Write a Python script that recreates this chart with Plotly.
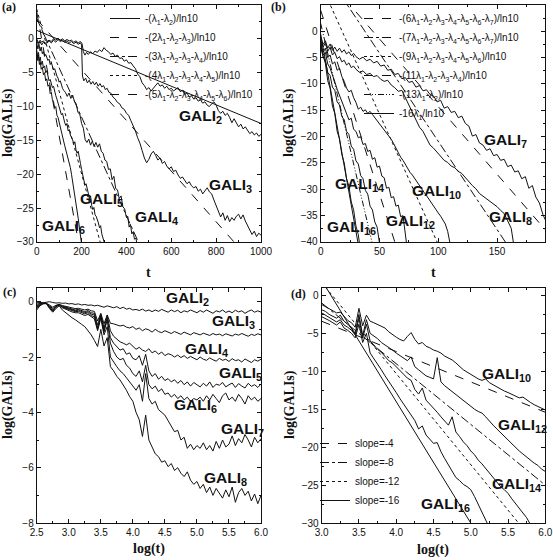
import plotly.graph_objects as go

# ---------------- Panel (a): GALI_2 ... GALI_6 vs t ----------------
a_g2_t = [0, 8, 15, 22, 30, 38, 45, 55, 65, 75, 85, 95, 105, 115, 125, 135, 145, 155, 165, 175, 185, 195, 202,
          208, 215, 222, 230, 240, 250, 260, 270, 280, 290, 300, 310, 320, 330, 340, 350, 360, 370, 380, 390, 400,
          410, 420, 430, 440, 450, 460, 470, 480, 490, 500, 510, 520, 530, 540, 550, 560, 570, 580, 590, 600, 610,
          620, 630, 640, 650, 660, 670, 680, 690, 700, 710, 720, 730, 740, 750, 760, 770, 780, 790, 800, 810, 820,
          830, 840, 850, 860, 870, 880, 890, 900, 910, 920, 930, 940, 950, 960, 970, 980, 990, 1000]
a_g2_v = [0.0, -0.6, -0.2, -0.5, -0.3, -0.7, -0.4, -0.2, -0.4, 0.0, -0.2, 0.1, -0.2, 0.0, -0.3, -0.1, -0.3, -0.2,
          -0.5, -0.3, -0.6, -0.4, -0.7, -1.9, -2.4, -2.0, -2.3, -1.9, -2.2, -1.8, -2.0, -1.6, -1.9, -1.3, -1.7, -1.9,
          -2.3, -2.1, -2.6, -2.4, -2.9, -2.8, -3.3, -3.1, -3.6, -3.5, -4.0, -4.4, -5.2, -5.6, -6.5, -6.9, -7.5, -7.2,
          -7.7, -7.3, -6.8, -6.5, -7.0, -6.8, -7.3, -7.0, -7.5, -7.3, -7.7, -7.4, -7.2, -7.8, -7.6, -8.2, -8.0, -8.6,
          -8.4, -8.9, -8.7, -9.2, -9.0, -9.5, -9.3, -9.8, -10.0, -9.6, -9.3, -9.8, -10.6, -11.0, -10.7, -11.3, -11.0,
          -11.6, -12.4, -11.8, -12.3, -13.0, -12.6, -13.3, -13.0, -13.6, -14.0, -13.7, -14.2, -13.9, -14.4, -14.1]

a_g3_t = [0, 8, 15, 22, 30, 38, 45, 55, 65, 75, 85, 95, 105, 115, 125, 135, 145, 155, 165, 175, 185, 195, 200,
          204, 210, 218, 226, 234, 242, 250, 258, 266, 274, 282, 290, 298, 306, 314, 322, 330, 340, 350, 360, 370,
          380, 390, 400, 410, 420, 430, 440, 450, 460, 470, 480, 490, 500, 510, 520, 530, 540, 550, 560, 570, 580,
          590, 600, 610, 620, 630, 640, 650, 660, 670, 680, 690, 700, 710, 720, 730, 740, 750, 760, 770, 780, 790,
          800, 810, 820, 830, 840, 850, 860, 870, 880, 890, 900, 910, 920, 930, 940, 950, 960, 970, 980, 990, 1000]
a_g3_v = [-0.3, -0.8, -0.4, -0.9, -0.5, -0.8, -0.6, -0.3, -0.6, -0.2, -0.5, -0.1, -0.4, -0.2, -0.5, -0.3, -0.6,
          -0.4, -0.7, -0.5, -0.8, -0.6, -0.9, -5.5, -6.2, -5.8, -6.5, -6.1, -6.7, -6.3, -6.8, -6.4, -7.0, -6.6, -7.1,
          -6.9, -7.5, -7.3, -7.9, -8.0, -8.6, -8.9, -9.4, -9.6, -10.2, -10.4, -11.0, -11.3, -12.1, -12.8, -13.6,
          -14.6, -15.4, -16.5, -17.6, -18.3, -17.8, -17.0, -16.6, -17.2, -17.9, -17.6, -18.4, -18.1, -18.8, -19.2,
          -18.9, -19.6, -19.4, -20.1, -20.6, -20.4, -21.0, -21.4, -21.1, -21.7, -22.0, -21.8, -22.5, -22.2, -22.9,
          -22.4, -22.0, -22.6, -22.9, -23.8, -24.6, -25.6, -26.3, -25.7, -26.8, -26.1, -27.0, -26.4, -26.8, -26.2,
          -25.9, -26.6, -26.0, -26.9, -27.6, -28.3, -28.9, -28.4, -29.2, -28.7, -29.0]

a_g4_t = [0, 5, 10, 15, 20, 25, 30, 35, 40, 45, 50, 55, 60, 65, 70, 75, 80, 85, 90, 95, 100, 105, 110, 115, 120,
          128, 136, 144, 152, 160, 168, 176, 184, 192, 200, 208, 216, 224, 232, 240, 248, 256, 264, 272, 280, 288,
          296, 304, 312, 320, 328, 336, 344, 352, 360, 368, 376, 384, 392, 400, 406, 412, 418, 424, 430, 436, 442, 448]
a_g4_v = [-0.6, -1.5, -0.8, -1.8, -1.2, -2.2, -1.9, -2.6, -2.3, -2.9, -3.2, -3.0, -3.8, -3.5, -4.3, -4.6, -4.4,
          -5.2, -5.5, -5.8, -6.4, -6.2, -7.0, -7.3, -7.6, -7.9, -8.5, -8.0, -8.8, -8.3, -9.2, -9.6, -10.9, -11.1,
          -12.5, -13.2, -14.9, -15.3, -14.8, -15.7, -15.1, -15.9, -15.3, -16.0, -15.5, -16.6, -16.9, -17.9, -18.1,
          -19.3, -19.2, -20.8, -20.3, -22.1, -22.3, -23.6, -23.2, -24.8, -25.1, -26.4, -26.2, -27.8, -27.4, -28.8,
          -28.5, -29.6, -29.4, -30.5]

a_g5_t = [0, 4, 8, 12, 16, 20, 25, 30, 35, 40, 45, 50, 55, 60, 65, 70, 75, 80, 85, 90, 95, 100, 105, 110, 115,
          120, 125, 130, 135, 140, 145, 150, 155, 160, 165, 170, 175, 180, 185, 190, 195, 200, 205, 210, 215, 220,
          225, 230, 235, 240, 245, 250, 255, 260, 265, 270, 275, 280, 285, 290, 295, 300, 305]
a_g5_v = [-1.6, -2.8, -2.0, -3.3, -2.7, -3.8, -3.3, -4.3, -4.0, -5.0, -4.7, -5.6, -6.2, -6.0, -6.9, -7.2, -7.0,
          -7.9, -8.4, -8.9, -9.5, -10.0, -10.6, -11.2, -11.0, -11.9, -12.4, -12.8, -12.5, -13.6, -13.4, -14.2,
          -14.5, -14.9, -15.5, -15.2, -16.4, -16.9, -16.6, -17.8, -18.4, -19.3, -20.2, -21.0, -21.6, -21.4, -22.4,
          -22.8, -23.6, -23.2, -24.6, -25.2, -24.9, -26.0, -26.2, -26.6, -27.2, -27.9, -27.6, -28.8, -29.3, -29.8,
          -30.5]

a_g6_t = [0, 4, 8, 12, 16, 20, 25, 30, 35, 40, 45, 50, 55, 60, 65, 70, 75, 80, 85, 90, 95, 100, 105, 110, 115,
          120, 125, 130, 135, 140, 145, 150, 155, 160, 165, 170, 175, 180, 185, 190, 195, 200]
a_g6_v = [-2.0, -3.2, -2.6, -3.8, -3.4, -4.5, -4.2, -5.3, -5.0, -6.2, -5.9, -7.0, -6.8, -8.1, -7.9, -9.0, -9.3,
          -10.2, -10.0, -11.3, -11.6, -12.4, -13.1, -13.7, -14.3, -15.1, -15.8, -16.4, -17.0, -17.6, -18.3, -19.0,
          -20.0, -21.0, -22.0, -23.0, -24.0, -25.3, -26.5, -27.8, -28.9, -30.3]

a_line_names = ["-(λ<sub>1</sub>-λ<sub>2</sub>)/ln10",
                "-(2λ<sub>1</sub>-λ<sub>2</sub>-λ<sub>3</sub>)/ln10",
                "-(3λ<sub>1</sub>-λ<sub>2</sub>-λ<sub>3</sub>-λ<sub>4</sub>)/ln10",
                "-(4λ<sub>1</sub>-λ<sub>2</sub>-λ<sub>3</sub>-λ<sub>4</sub>-λ<sub>5</sub>)/ln10",
                "-(5λ<sub>1</sub>-λ<sub>2</sub>-λ<sub>3</sub>-λ<sub>4</sub>-λ<sub>5</sub>-λ<sub>6</sub>)/ln10"]
a_line_icpt = [1.25, 2.9, 3.0, 4.4, 4.0]
a_line_slope = [-0.01375, -0.0374, -0.0728, -0.1216, -0.183]
a_labels = ["GALI<sub>2</sub>", "GALI<sub>3</sub>", "GALI<sub>4</sub>", "GALI<sub>5</sub>", "GALI<sub>6</sub>"]

# ---------------- Panel (b): GALI_7 ... GALI_16 vs t ----------------
b_g7_t = [0, 2, 4, 6, 8, 10, 12, 14, 16, 18, 20, 22, 24, 26, 28, 30, 33, 36, 39, 42, 45, 48, 51, 54, 57, 60, 63,
          66, 69, 72, 75, 78, 81, 84, 87, 90, 93, 96, 99, 102, 105, 108, 111, 114, 117, 120, 123, 126, 129, 132,
          135, 138, 141, 144, 147, 150, 153, 156, 159, 162, 165, 168, 171, 174, 177, 180, 183, 186, 189, 191]
b_g7_v = [-1.0, -2.5, -1.8, -3.2, -2.4, -3.6, -3.0, -3.8, -3.2, -4.0, -3.5, -4.3, -3.9, -4.6, -4.2, -4.8, -5.3,
          -4.9, -5.6, -5.3, -6.0, -5.7, -6.6, -6.4, -7.4, -7.2, -8.2, -8.0, -9.0, -8.8, -9.7, -9.5, -10.6, -10.3,
          -11.3, -11.1, -12.0, -12.3, -13.4, -13.1, -14.6, -14.3, -15.4, -15.2, -16.4, -16.1, -17.5, -18.0, -19.9,
          -19.6, -21.2, -21.6, -22.6, -22.3, -23.6, -23.4, -24.5, -24.3, -25.7, -25.4, -26.7, -26.5, -28.0, -27.6,
          -29.8, -29.3, -31.5, -32.6, -34.8, -35.8]

b_g8_t = [0, 2, 4, 6, 8, 10, 12, 14, 16, 18, 20, 22, 24, 26, 28, 30, 33, 36, 39, 42, 45, 48, 51, 54, 57, 60, 63,
          66, 69, 72, 75, 78, 81, 84, 87, 90, 93, 96, 99, 102, 105, 108, 111, 114, 117, 120, 123, 126, 129, 132,
          135, 138, 141, 144, 147, 150, 153, 156, 159, 162, 164]
b_g8_v = [-1.5, -3.0, -2.2, -3.8, -3.0, -4.5, -4.0, -5.2, -4.8, -5.8, -5.5, -6.4, -6.0, -6.9, -6.6, -7.2, -7.8,
          -7.5, -8.2, -8.0, -8.6, -8.4, -9.1, -9.5, -9.3, -10.2, -10.7, -11.4, -11.2, -12.6, -13.8, -15.3, -16.8,
          -18.2, -19.0, -20.3, -21.6, -22.2, -23.0, -23.6, -24.5, -24.9, -25.6, -25.9, -26.6, -27.0, -27.8, -28.4,
          -29.3, -29.9, -30.8, -31.3, -31.8, -32.4, -32.8, -33.3, -34.0, -34.6, -36.0, -37.4, -40.3]

b_g10_t = [0, 2, 4, 6, 8, 10, 12, 14, 16, 18, 20, 22, 24, 26, 28, 30, 32, 34, 36, 38, 40, 42, 44, 46, 48, 50,
           52, 54, 56, 58, 60, 62, 64, 66, 68, 70, 72, 74, 76, 78, 80, 82, 84, 86, 88, 90, 92, 94, 96, 98, 100,
           102, 104, 106, 108, 110]
b_g10_v = [-2.0, -4.0, -3.2, -5.0, -4.5, -6.2, -5.8, -7.4, -7.0, -8.6, -9.5, -10.8, -11.5, -11.2, -12.6, -13.5,
           -14.8, -14.4, -15.2, -14.9, -15.6, -15.2, -15.8, -16.4, -16.9, -17.6, -18.0, -18.6, -19.3, -19.8, -20.5,
           -21.3, -22.2, -23.0, -23.9, -24.5, -25.3, -26.0, -26.8, -27.3, -28.0, -28.6, -29.3, -29.9, -30.6, -31.2,
           -31.9, -32.5, -33.2, -33.8, -34.5, -35.1, -35.8, -36.6, -38.0, -40.3]

b_g12_t = [0, 2, 4, 6, 8, 10, 12, 14, 16, 18, 20, 22, 24, 26, 28, 30, 32, 34, 36, 38, 40, 42, 44, 46, 48, 50,
           52, 54, 56, 58, 60, 62, 64, 66, 68, 70, 72, 73]
b_g12_v = [-2.5, -4.5, -4.0, -6.2, -7.0, -8.5, -9.6, -11.0, -12.2, -13.5, -14.6, -15.8, -16.8, -16.5, -18.6,
           -19.0, -20.2, -20.0, -21.5, -21.3, -22.8, -22.6, -24.3, -24.0, -25.8, -25.6, -27.5, -27.8, -29.8, -29.6,
           -31.6, -31.4, -33.2, -33.0, -35.2, -35.0, -38.2, -40.3]

b_g14_t = [0, 2, 4, 6, 8, 10, 12, 14, 16, 18, 20, 22, 24, 26, 28, 30, 32, 34, 36, 38, 40, 42, 44, 46, 48, 50]
b_g14_v = [-3.0, -4.8, -5.6, -7.8, -8.4, -10.6, -11.2, -13.4, -14.0, -16.2, -16.8, -19.0, -19.6, -21.8, -22.4,
           -24.6, -25.2, -27.4, -28.0, -30.2, -30.9, -33.2, -33.9, -36.2, -37.2, -40.2]

b_g16_t = [0, 2, 4, 6, 8, 10, 12, 14, 16, 18, 20, 22, 24, 26, 28, 30, 32, 33]
b_g16_v = [-2.0, -4.6, -6.1, -9.4, -10.8, -14.2, -15.6, -19.0, -20.4, -23.4, -25.0, -28.0, -29.4, -32.4, -33.9,
           -37.0, -38.6, -40.3]

b_line_names = ["-(6λ<sub>1</sub>-λ<sub>2</sub>-λ<sub>3</sub>-λ<sub>4</sub>-λ<sub>5</sub>-λ<sub>6</sub>-λ<sub>7</sub>)/ln10",
                "-(7λ<sub>1</sub>-λ<sub>2</sub>-λ<sub>3</sub>-λ<sub>4</sub>-λ<sub>5</sub>-λ<sub>6</sub>-λ<sub>7</sub>)/ln10",
                "-(9λ<sub>1</sub>-λ<sub>2</sub>-λ<sub>3</sub>-λ<sub>4</sub>-λ<sub>5</sub>-λ<sub>6</sub>)/ln10",
                "-(11λ<sub>1</sub>-λ<sub>2</sub>-λ<sub>3</sub>-λ<sub>4</sub>)/ln10",
                "-(13λ<sub>1</sub>-λ<sub>2</sub>)/ln10",
                "-16λ<sub>1</sub>/ln10"]
b_line_icpt = [11.4, 12.6, 9.05, 4.0, 1.5, -0.5]
b_line_slope = [-0.257, -0.335, -0.4955, -0.698, -0.952, -1.25]
b_labels = ["GALI<sub>7</sub>", "GALI<sub>8</sub>", "GALI<sub>10</sub>", "GALI<sub>12</sub>",
            "GALI<sub>14</sub>", "GALI<sub>16</sub>"]

# ---------------- Panel (c): GALI_2 ... GALI_8 vs log(t) ----------------
c_logt = [2.50, 2.55, 2.60, 2.65, 2.70, 2.75, 2.80, 2.85, 2.90, 2.95, 3.00, 3.05, 3.10, 3.15, 3.20, 3.25, 3.30,
          3.35, 3.40, 3.45, 3.50, 3.55, 3.60, 3.65, 3.70, 3.75, 3.80, 3.85, 3.90, 3.95, 4.00, 4.05, 4.10, 4.15,
          4.20, 4.25, 4.30, 4.35, 4.40, 4.45, 4.50, 4.55, 4.60, 4.65, 4.70, 4.75, 4.80, 4.85, 4.90, 4.95, 5.00,
          5.05, 5.10, 5.15, 5.20, 5.25, 5.30, 5.35, 5.40, 5.45, 5.50, 5.55, 5.60, 5.65, 5.70, 5.75, 5.80, 5.85,
          5.90, 5.95, 6.00]
c_g2 = [0.0, -0.02, -0.05, -0.02, 0.0, -0.03, -0.05, -0.04, -0.06, -0.05,
        -0.08, -0.07, -0.1, -0.08, -0.12, -0.1, -0.13, -0.12, -0.15, -0.13,
        -0.16, -0.2, -0.15, -0.18, -0.22, -0.18, -0.25, -0.2, -0.27, -0.24,
        -0.3, -0.28, -0.32, -0.27, -0.34, -0.3, -0.36, -0.3, -0.35, -0.28,
        -0.33, -0.38, -0.3, -0.36, -0.31, -0.4, -0.33, -0.37, -0.3, -0.35,
        -0.4, -0.32, -0.38, -0.3, -0.36, -0.42, -0.33, -0.37, -0.3, -0.39,
        -0.34, -0.4, -0.31, -0.37, -0.33, -0.42, -0.35, -0.3, -0.38, -0.33, -0.38]
c_g3 = [-0.05, -0.03, -0.05, -0.06, -0.12, -0.2, -0.13, -0.1, -0.14, -0.17,
        -0.2, -0.22, -0.25, -0.24, -0.28, -0.3, -0.27, -0.33, -0.35, -0.7,
        -0.42, -0.8, -0.48, -0.78, -0.8, -0.84, -0.88, -0.85, -0.92, -0.95,
        -0.9, -1.0, -0.95, -1.05, -0.98, -1.02, -1.1, -1.0, -1.08, -1.12,
        -1.05, -1.1, -1.15, -1.08, -1.12, -1.18, -1.1, -1.15, -1.2, -1.12,
        -1.16, -1.2, -1.14, -1.18, -1.22, -1.15, -1.2, -1.17, -1.23, -1.16,
        -1.2, -1.24, -1.17, -1.21, -1.15, -1.2, -1.25, -1.18, -1.22, -1.16, -1.2]
c_g4 = [-0.1, -0.06, -0.05, -0.06, -0.15, -0.25, -0.15, -0.1, -0.16, -0.2,
        -0.24, -0.27, -0.3, -0.28, -0.33, -0.36, -0.32, -0.4, -0.42, -0.85,
        -0.45, -0.95, -0.5, -1.05, -1.25, -1.35, -1.45, -1.5, -1.56, -1.5,
        -1.6, -1.72, -1.65, -1.75, -1.8, -1.7, -1.85, -1.78, -1.9, -1.82,
        -1.95, -1.88, -1.92, -2.0, -1.93, -2.02, -1.95, -2.05, -1.98, -2.04,
        -2.1, -2.0, -2.08, -2.12, -2.03, -2.1, -2.15, -2.05, -2.12, -2.08,
        -2.16, -2.06, -2.13, -2.1, -2.18, -2.07, -2.14, -2.2, -2.1, -2.15, -2.08]
c_g5 = [-0.15, -0.08, -0.05, -0.06, -0.18, -0.3, -0.17, -0.1, -0.18, -0.22,
        -0.27, -0.3, -0.33, -0.31, -0.36, -0.4, -0.36, -0.45, -0.48, -0.95,
        -0.5, -1.05, -0.6, -1.3, -1.5, -1.62, -1.75, -1.7, -1.9, -1.85,
        -2.05, -2.1, -1.95, -2.3, -1.9, -2.5, -2.7, -2.6, -2.8, -2.7,
        -2.85, -2.78, -2.9, -2.82, -2.95, -2.85, -3.0, -2.9, -3.05, -2.92,
        -3.0, -3.08, -2.95, -3.05, -2.9, -3.1, -2.98, -3.02, -2.92, -3.08,
        -3.0, -2.94, -3.1, -2.96, -3.05, -3.12, -2.95, -3.06, -3.0, -3.1, -2.98]
c_g6 = [-0.2, -0.1, -0.06, -0.06, -0.2, -0.33, -0.18, -0.11, -0.2, -0.24,
        -0.3, -0.33, -0.36, -0.35, -0.4, -0.44, -0.4, -0.5, -0.55, -1.0,
        -0.55, -1.1, -0.65, -1.5, -1.8, -2.0, -2.1, -2.05, -2.3, -2.4,
        -2.6, -2.7, -2.5, -2.9, -2.3, -3.0, -3.15, -3.05, -3.25, -3.15,
        -3.35, -3.3, -3.45, -3.35, -3.5, -3.4, -3.55, -3.45, -3.6, -3.5,
        -3.55, -3.45, -3.6, -3.4, -3.55, -3.35, -3.5, -3.65, -3.4, -3.3,
        -3.55, -3.45, -3.6, -3.35, -3.5, -3.7, -3.4, -3.55, -3.45, -3.6, -3.5]
c_g7 = [-0.25, -0.12, -0.07, -0.06, -0.22, -0.35, -0.2, -0.12, -0.22, -0.27,
        -0.33, -0.37, -0.4, -0.4, -0.45, -0.5, -0.46, -0.55, -0.62, -1.05,
        -0.6, -1.2, -0.9, -2.0, -2.2, -2.35, -2.5, -2.6, -2.75, -2.9,
        -3.07, -3.2, -3.0, -3.6, -2.6, -3.5, -3.7, -3.6, -3.9, -4.0,
        -4.1, -4.3, -4.5, -4.7, -4.65, -5.0, -4.9, -5.3, -5.15, -5.35,
        -5.2, -5.3, -5.1, -5.35, -5.2, -5.4, -5.05, -5.3, -5.0, -5.25,
        -5.15, -4.85, -5.2, -4.95, -5.1, -4.8, -5.0, -5.25, -4.9, -5.1, -4.95]
c_g8 = [-0.3, -0.15, -0.08, -0.07, -0.25, -0.38, -0.25, -0.15, -0.3, -0.4,
        -0.5, -0.58, -0.65, -0.75, -0.82, -0.9, -1.05, -1.2, -1.4, -1.62,
        -1.0, -1.6, -1.3, -2.35, -2.5, -2.7, -2.83, -3.0, -3.2, -3.43,
        -3.6, -4.0, -4.27, -4.87, -4.1, -5.0, -5.23, -5.5, -5.6, -5.8,
        -5.75, -5.96, -5.85, -6.1, -6.0, -6.2, -6.32, -6.15, -6.45, -6.6,
        -6.5, -6.75, -6.6, -6.9, -6.7, -7.0, -6.75, -6.95, -7.1, -6.8,
        -7.05, -6.7, -7.25, -6.9, -6.75, -7.0, -6.85, -7.2, -6.95, -7.3, -7.0]
c_labels = ["GALI<sub>2</sub>", "GALI<sub>3</sub>", "GALI<sub>4</sub>", "GALI<sub>5</sub>",
            "GALI<sub>6</sub>", "GALI<sub>7</sub>", "GALI<sub>8</sub>"]

# ---------------- Panel (d): GALI_10 ... GALI_16 vs log(t) ----------------
d_logt = [3.00, 3.05, 3.10, 3.15, 3.20, 3.25, 3.30, 3.35, 3.40, 3.45, 3.50, 3.55, 3.60, 3.65, 3.70, 3.75, 3.80,
          3.85, 3.90, 3.95, 4.00, 4.05, 4.10, 4.15, 4.20, 4.25, 4.30, 4.35, 4.40, 4.45, 4.50, 4.55, 4.60, 4.65,
          4.70, 4.75, 4.80, 4.85, 4.90, 4.95, 5.00, 5.05, 5.10, 5.15, 5.20, 5.25, 5.30, 5.35, 5.40, 5.45, 5.50,
          5.55, 5.60, 5.65, 5.70, 5.75, 5.80, 5.85, 5.90, 5.95, 6.00]
d_g10 = [-1.2, -1.5, -1.8, -2.0, -2.3, -2.2, -2.8, -3.3, -3.6, -4.2,
         -1.7, -4.0, -2.6, -3.4, -3.6, -3.8, -4.1, -4.3, -4.8, -5.2,
         -5.5, -5.8, -6.0, -5.4, -4.9, -5.8, -6.4, -6.2, -6.7, -6.9,
         -7.2, -7.35, -7.6, -8.0, -8.2, -8.5, -8.9, -9.4, -9.8, -10.1,
         -10.4, -10.8, -11.0, -11.2, -11.0, -11.5, -11.8, -12.1, -12.3, -12.6,
         -12.8, -13.0, -13.3, -13.5, -13.4, -13.8, -14.1, -14.4, -14.6, -14.8, -15.1]
d_g12 = [-1.9, -2.1, -2.5, -2.7, -3.0, -2.6, -3.4, -3.8, -4.3, -5.0,
         -2.5, -5.3, -3.2, -5.0, -5.3, -5.7, -6.2, -6.5, -6.9, -7.2,
         -7.6, -7.9, -8.3, -8.6, -8.1, -9.4, -9.8, -10.2, -10.6, -10.8,
         -11.0, -8.2, -11.4, -11.9, -12.3, -12.6, -13.0, -13.4, -13.9, -14.2,
         -14.6, -15.0, -15.3, -15.5, -16.0, -16.6, -17.1, -17.6, -18.1, -18.6,
         -19.1, -19.6, -20.1, -20.5, -20.9, -21.3, -21.8, -22.1, -22.4, -22.9, -23.2]
d_g14 = [-2.3, -2.6, -2.9, -3.2, -3.5, -3.2, -3.9, -4.2, -4.6, -5.2,
         -3.0, -5.6, -3.8, -6.0, -6.6, -7.1, -7.5, -8.0, -8.6, -8.9,
         -9.4, -9.9, -10.4, -10.9, -11.2, -12.4, -13.0, -12.2, -13.8, -14.3,
         -14.8, -15.4, -16.0, -16.5, -17.1, -16.0, -18.0, -18.6, -19.3, -19.8,
         -20.5, -21.0, -21.7, -22.2, -22.8, -23.4, -24.0, -24.6, -25.2, -25.6,
         -26.1, -26.8, -27.4, -28.0, -28.6, -29.3, -30.2]
d_g16 = [-2.8, -3.0, -3.3, -3.6, -3.9, -3.5, -4.3, -4.6, -5.0, -5.6,
         -3.8, -6.2, -5.0, -7.6, -8.3, -9.0, -9.8, -10.6, -11.3, -12.0,
         -12.8, -13.6, -14.3, -15.0, -15.8, -16.5, -17.6, -17.2, -18.4, -18.9,
         -19.5, -19.4, -20.6, -21.5, -22.4, -23.2, -24.0, -24.4, -24.9, -25.2,
         -25.6, -26.5, -27.6, -28.6, -29.6, -30.6]
d_line_names = ["slope=-4", "slope=-8", "slope=-12", "slope=-16"]
d_line_slope = [-4, -8, -12, -16]
d_line_icpt = [8.6, 23.0, 37.7, 50.0]
d_labels = ["GALI<sub>10</sub>", "GALI<sub>12</sub>", "GALI<sub>14</sub>", "GALI<sub>16</sub>"]

# ---------------- label anchor positions (data coords) ----------------
a_label_pos = [(625, -11.5), (759, -21.6), (431, -26.45), (186, -23.7), (15, -27.7)]
b_label_pos = [(137, -20.8), (141.5, -35.3), (76, -30.4), (54, -36.1), (10.8, -29.1), (3.7, -37.3)]
c_label_pos = [(4.48, 0.13), (5.21, -0.72), (4.79, -1.74), (5.31, -2.61), (4.61, -3.76), (5.34, -4.63),
               (5.08, -6.38)]
d_label_pos = [(5.13, -10.37), (5.34, -17.2), (5.26, -24.9), (4.31, -27.5)]

# ---------------- styling ----------------
INK = "#111111"
SANS = "Arial, Liberation Sans, sans-serif"
SERIF = "Times New Roman, Liberation Serif, serif"
a_dash = ["solid", "dash", "dashdot", "dot", "dash"]
b_dash = ["dash", "dashdot", "dot", "dash", "6px,2px,1px,2px,1px,2px", "solid"]
d_dash = ["dash", "dashdot", "dot", "solid"]

fig = go.Figure()


def data_trace(x, y, xa, ya):
    fig.add_trace(go.Scatter(x=x, y=y, mode="lines", xaxis=xa, yaxis=ya, showlegend=False,
                             line=dict(color=INK, width=1), hoverinfo="skip"))


def theory_lines(names, icpts, slopes, dashes, x0, x1, xa, ya, legend):
    for nm, c, s, ds in zip(names, icpts, slopes, dashes):
        xs = [x0, x1]
        fig.add_trace(go.Scatter(x=xs, y=[c + s * v for v in xs], mode="lines", name=nm,
                                 xaxis=xa, yaxis=ya, legend=legend, hoverinfo="skip",
                                 line=dict(color=INK, width=1, dash=ds)))


# panel (a)
for t, v in [(a_g2_t, a_g2_v), (a_g3_t, a_g3_v), (a_g4_t, a_g4_v), (a_g5_t, a_g5_v), (a_g6_t, a_g6_v)]:
    data_trace(t, v, "x", "y")
theory_lines(a_line_names, a_line_icpt, a_line_slope, a_dash, 0, 1000, "x", "y", "legend")

# panel (b)
for t, v in [(b_g7_t, b_g7_v), (b_g8_t, b_g8_v), (b_g10_t, b_g10_v), (b_g12_t, b_g12_v),
             (b_g14_t, b_g14_v), (b_g16_t, b_g16_v)]:
    data_trace(t, v, "x2", "y2")
theory_lines(b_line_names, b_line_icpt, b_line_slope, b_dash, 0, 191, "x2", "y2", "legend2")

# panel (c)
for v in [c_g2, c_g3, c_g4, c_g5, c_g6, c_g7, c_g8]:
    data_trace(c_logt[:len(v)], v, "x3", "y3")

# panel (d)
for v in [d_g10, d_g12, d_g14, d_g16]:
    data_trace(d_logt[:len(v)], v, "x4", "y4")
theory_lines(d_line_names, d_line_icpt, d_line_slope, d_dash, 3.0, 6.0, "x4", "y4", "legend3")

# GALI labels
ann = []
for labels, pos, xr, yr in [(a_labels, a_label_pos, "x", "y"), (b_labels, b_label_pos, "x2", "y2"),
                            (c_labels, c_label_pos, "x3", "y3"), (d_labels, d_label_pos, "x4", "y4")]:
    for lab, (px, py) in zip(labels, pos):
        ann.append(dict(text=lab, x=px, y=py, xref=xr, yref=yr, xanchor="left", yanchor="middle",
                        showarrow=False, font=dict(family=SANS, size=15.5, color=INK, weight="bold")))

W, H = 553, 560


def paper(px, py):
    return px / W, 1 - py / H


def paper_text(txt, px, py, size, angle=0):
    x, y = paper(px, py)
    ann.append(dict(text=txt, x=x, y=y, xref="paper", yref="paper", showarrow=False, textangle=angle,
                    xanchor="center", yanchor="middle",
                    font=dict(family=SERIF, size=size, color=INK, weight="bold")))


for txt, (px, py) in [("(a)", (9, 7.5)), ("(b)", (278.5, 7)), ("(c)", (9, 292)), ("(d)", (298, 294))]:
    paper_text(txt, px, py, 12)
for txt, (px, py) in [("t", (148.7, 272)), ("t", (433.3, 272)), ("log(t)", (149, 549)), ("log(t)", (433.3, 550))]:
    paper_text(txt, px, py, 14)
for (px, py) in [(8, 123), (289, 123), (8, 405), (290, 405)]:
    paper_text("log(GALIs)", px, py, 14, -90)


def axis(domain, anchor, rng, dtick, minor, fmt=None, tick0=0):
    d = dict(domain=domain, anchor=anchor, range=rng, dtick=dtick, tick0=tick0, showgrid=False,
             zeroline=False, showline=True, linecolor=INK, linewidth=1, mirror="allticks",
             ticks="inside", ticklen=4, tickcolor=INK, tickwidth=1,
             minor=dict(dtick=minor, ticks="inside", ticklen=2, tickcolor=INK, showgrid=False),
             tickfont=dict(family=SANS, size=10, color=INK), automargin=False, fixedrange=True)
    if fmt:
        d["tickformat"] = fmt
    return d


xa_dom = [0.0664, 0.4720]
xb_dom = [0.5799, 0.9861]
xd_dom = [0.5817, 0.9861]
top_dom = [0.5679, 0.9911]
bot_dom = [0.066, 0.486]

legend_common = dict(bgcolor="rgba(0,0,0,0)", borderwidth=0, font=dict(family=SANS, size=10, color=INK),
                     tracegroupgap=0, itemwidth=30)

fig.update_layout(
    width=W, height=H, margin=dict(l=0, r=0, t=0, b=0),
    paper_bgcolor="white", plot_bgcolor="white", showlegend=True, hovermode=False,
    xaxis=axis(xa_dom, "y", [0, 1000], 200, 100),
    yaxis=axis(top_dom, "x", [-30, 5], 5, 2.5),
    xaxis2=axis(xb_dom, "y2", [0, 191], 50, 25),
    yaxis2=axis(top_dom, "x2", [-40, 5], 5, 2.5),
    xaxis3=axis(xa_dom, "y3", [2.5, 6.0], 0.5, 0.25, ".1f"),
    yaxis3=axis(bot_dom, "x3", [-8, 0.5], 2, 1),
    xaxis4=axis(xd_dom, "y4", [3.0, 6.0], 0.5, 0.25, ".1f"),
    yaxis4=axis(bot_dom, "x4", [-30, 1], 5, 2.5),
    legend=dict(x=105 / W, y=1 - 4 / H, xanchor="left", yanchor="top", **legend_common),
    legend2=dict(x=525 / W, y=1 - 4 / H, xanchor="right", yanchor="top", **legend_common),
    legend3=dict(x=315 / W, y=1 - 515 / H, xanchor="left", yanchor="bottom", **legend_common),
    annotations=ann,
)

fig.write_html("out.html", config={"displayModeBar": False, "staticPlot": True},
               post_script="document.body.style.margin='0';document.body.style.padding='0';"
                           "document.body.style.overflow='hidden';")
